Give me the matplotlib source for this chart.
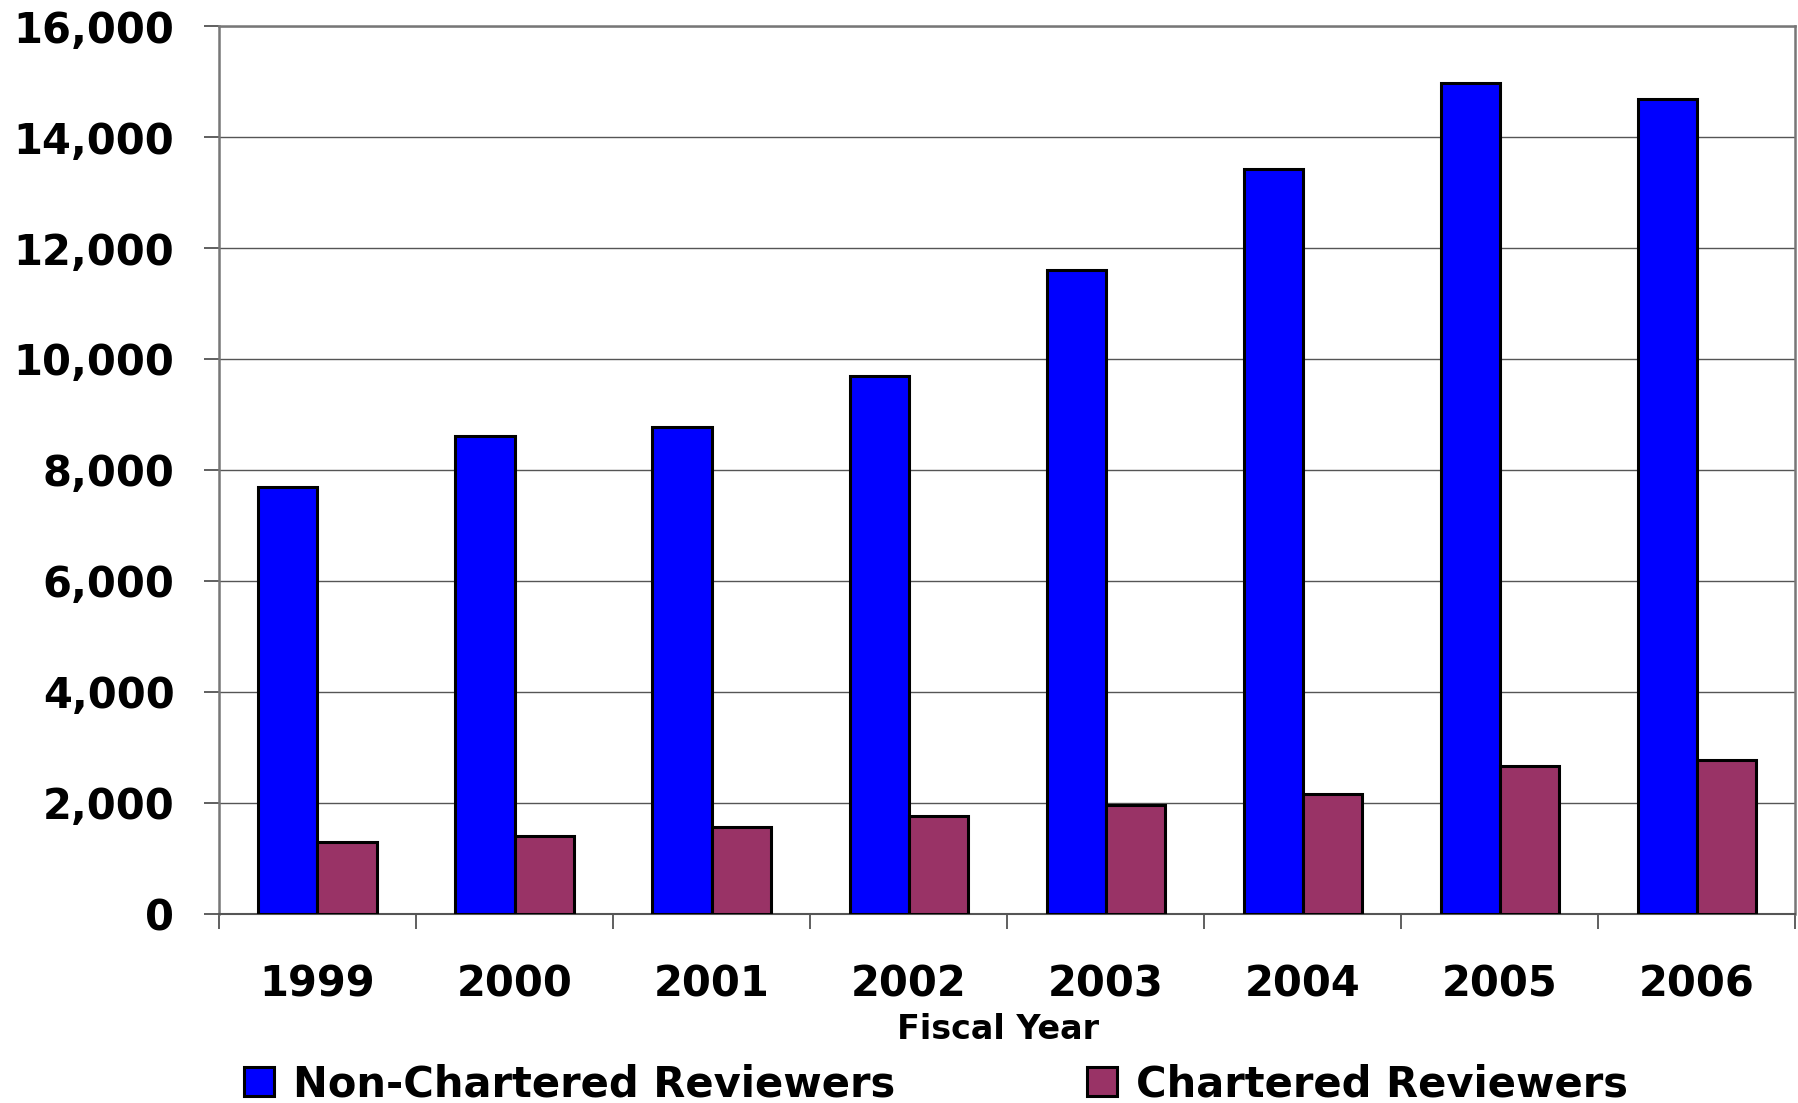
import numpy as np
import matplotlib
matplotlib.use('Agg')
from matplotlib import pyplot as plt
from matplotlib.ticker import FuncFormatter, FixedLocator

years = ['1999', '2000', '2001', '2002', '2003', '2004', '2005', '2006']
non_chartered = [7700, 8620, 8780, 9690, 11600, 13420, 14970, 14680]
chartered = [1300, 1410, 1570, 1760, 1960, 2170, 2670, 2770]

plt.rcParams['font.family'] = ['DejaVu Sans']
plt.rcParams['font.weight'] = 'bold'

fig = plt.figure(figsize=(17.99, 11.03), dpi=100)
ax = fig.add_axes([0.1217, 0.1714, 0.8763, 0.805])

x = np.arange(len(years))
w = 0.3
ax.bar(x - w / 2, non_chartered, w, color='#0000FF', edgecolor='black', linewidth=2.2,
       label='Non-Chartered Reviewers', zorder=3)
ax.bar(x + w / 2, chartered, w, color='#993366', edgecolor='black', linewidth=2.2,
       label='Chartered Reviewers', zorder=3)

ax.set_xlim(-0.5, len(years) - 0.5)
ax.set_ylim(0, 16000)
ax.set_yticks(np.arange(0, 16001, 2000))
ax.yaxis.set_major_formatter(FuncFormatter(lambda v, p: f'{int(v):,}'))
ax.yaxis.grid(True, color='#555555', linewidth=1.0, zorder=0)

# year labels centred, boundary ticks between groups
ax.set_xticks(x)
ax.set_xticklabels(years)
ax.xaxis.set_minor_locator(FixedLocator(np.arange(-0.5, len(years), 1.0)))
ax.tick_params(axis='x', which='major', length=0, pad=36, labelsize=30)
ax.tick_params(axis='x', which='minor', length=11, width=1.2, color='#444444', direction='out')
ax.tick_params(axis='y', length=11, width=1.2, color='#444444', direction='out',
               pad=21, labelsize=30)

for s in ['left', 'right', 'top']:
    ax.spines[s].set_color('#777777')
    ax.spines[s].set_linewidth(1.8)
ax.spines['bottom'].set_color('#555555')
ax.spines['bottom'].set_linewidth(1.5)

fig.text(0.555, 0.067, 'Fiscal Year', ha='center', va='center', fontsize=24, fontweight='bold')

fig.legend(loc='center left', bbox_to_anchor=(0.1358, 0.017), ncol=2, frameon=False,
           fontsize=30, handlelength=0.72, handleheight=0.68, handletextpad=0.45,
           columnspacing=4.6, borderaxespad=0, borderpad=0)

fig.savefig('out.png', dpi=100)
